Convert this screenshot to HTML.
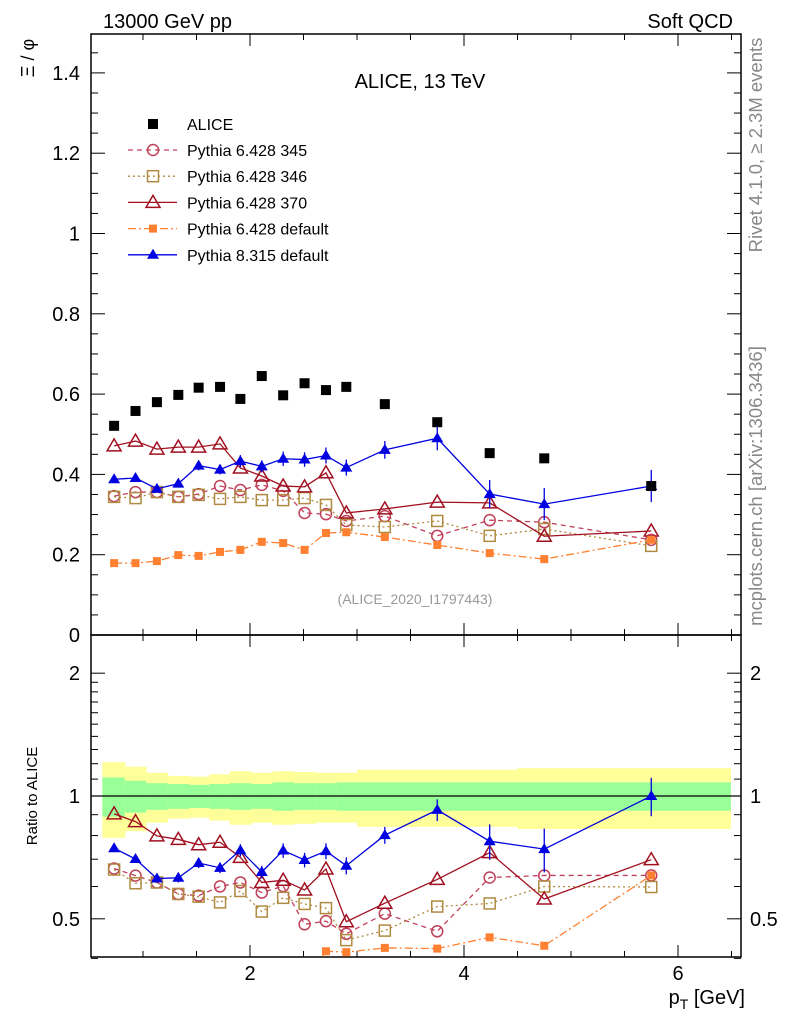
<!DOCTYPE html>
<html><head><meta charset="utf-8"><style>
body{margin:0;background:#fff;font-family:"Liberation Sans",sans-serif}
svg{display:block}
</style></head><body>
<svg id="c" width="786" height="1024" xmlns="http://www.w3.org/2000/svg" font-family="Liberation Sans, sans-serif">
<text x="103" y="28" font-size="20">13000 GeV pp</text>
<text x="733" y="28" font-size="20" text-anchor="end">Soft QCD</text>
<text x="420" y="88" font-size="20" text-anchor="middle">ALICE, 13 TeV</text>
<text transform="translate(34,58) rotate(-90)" font-size="18" text-anchor="middle">Ξ / φ</text>
<text transform="translate(37,796) rotate(-90)" font-size="15" text-anchor="middle">Ratio to ALICE</text>
<text transform="translate(762,145) rotate(-90)" font-size="18.5" fill="#888" text-anchor="middle">Rivet 4.1.0, ≥ 2.3M events</text>
<text transform="translate(762,486) rotate(-90)" font-size="18.5" fill="#888" text-anchor="middle">mcplots.cern.ch [arXiv:1306.3436]</text>
<text x="415" y="604" font-size="14" fill="#999" text-anchor="middle">(ALICE_2020_I1797443)</text>
<text x="745" y="1004" font-size="20" text-anchor="end">p<tspan font-size="14" dy="5">T</tspan><tspan dy="-5"> [GeV]</tspan></text>
<g id="g"></g>
</svg>
<script>
const pt=[0.73,0.93,1.13,1.33,1.52,1.72,1.91,2.11,2.31,2.51,2.71,2.9,3.26,3.75,4.24,4.75,5.75];
const edges=[0.62,0.83,1.03,1.23,1.43,1.62,1.81,2.01,2.21,2.41,2.61,2.81,3.0,3.5,4.0,4.5,5.0,6.49];
const alice=[0.521,0.558,0.580,0.598,0.616,0.618,0.588,0.645,0.597,0.627,0.610,0.618,0.575,0.530,0.453,0.440,0.371];
const py345=[0.346,0.356,0.356,0.344,0.351,0.371,0.361,0.374,0.359,0.304,0.301,0.284,0.296,0.247,0.286,0.281,0.237];
const py346=[0.344,0.341,0.356,0.344,0.349,0.339,0.344,0.336,0.336,0.341,0.324,0.274,0.269,0.284,0.247,0.264,0.222];
const py370=[0.471,0.483,0.463,0.468,0.468,0.476,0.416,0.396,0.371,0.369,0.404,0.304,0.314,0.331,0.329,0.246,0.259];
const py6def=[0.179,0.179,0.184,0.199,0.197,0.207,0.212,0.232,0.229,0.212,0.254,0.256,0.244,0.224,0.204,0.189,0.237];
const py8=[0.388,0.391,0.364,0.377,0.422,0.412,0.433,0.420,0.439,0.437,0.447,0.417,0.461,0.490,0.351,0.326,0.371];
const py8err=[0.008,0.008,0.008,0.01,0.012,0.012,0.015,0.015,0.018,0.018,0.02,0.02,0.022,0.03,0.035,0.04,0.04];
const relTot=[0.21,0.18,0.14,0.12,0.115,0.13,0.15,0.14,0.15,0.145,0.14,0.14,0.16,0.16,0.16,0.17,0.17];
const relStat=[0.11,0.09,0.075,0.07,0.065,0.07,0.075,0.07,0.08,0.075,0.075,0.08,0.08,0.08,0.08,0.08,0.08];
const mainTicks=[0,0.2,0.4,0.6,0.8,1,1.2,1.4];
const ratioTicks=[0.5,1,2];
const xTicks=[2,4,6];

const NS="http://www.w3.org/2000/svg",G=document.getElementById('g');
const X=p=>36+107*p, Y=v=>635-401.5*v, R=r=>796-408*Math.log10(r);
function el(t,a,par){const e=document.createElementNS(NS,t);for(const k in a)e.setAttribute(k,a[k]);(par||G).appendChild(e);return e;}
for(let i=0;i<pt.length;i++){
 const x0=X(edges[i]),x1=Math.min(X(edges[i+1]),741);
 let b=el('rect',{x:x0,y:R(1+relTot[i]),width:x1-x0+0.5,height:R(1-relTot[i])-R(1+relTot[i]),fill:'#ffff99'});
 
 
 b=el('rect',{x:x0,y:R(1+relStat[i]),width:x1-x0+0.5,height:R(1-relStat[i])-R(1+relStat[i]),fill:'#99ff99'});
 
 
}
el('line',{x1:91,x2:741,y1:R(1),y2:R(1),stroke:'#000','stroke-width':1.2});
let f=el('rect',{x:91,y:34,width:650,height:601,fill:'none',stroke:'#000','stroke-width':1.5});


f=el('rect',{x:91,y:635,width:650,height:322,fill:'none',stroke:'#000','stroke-width':1.5});


for(let p=0.5;p<=6.5;p+=0.5){const x=X(p);if(x<92||x>740)continue;const L=Number.isInteger(p/2)?12:6;
 for(const [a,b] of [[34,34+L],[635-L,635],[635,635+L],[957-L,957]])el('line',{x1:x,x2:x,y1:a,y2:b,stroke:'#000'});}
xTicks.forEach(p=>{const t=el('text',{x:X(p),y:980,'font-size':20,'text-anchor':'middle'});t.textContent=p;
 
 });
for(let v=0;v<=1.5;v+=0.05){const y=Y(v);if(y<35)continue;const maj=Math.abs(v*5-Math.round(v*5))<1e-6;const L=maj?14:7;
 el('line',{x1:91,x2:91+L,y1:y,y2:y,stroke:'#000'});el('line',{x1:741-L,x2:741,y1:y,y2:y,stroke:'#000'});}
mainTicks.forEach(v=>{const t=el('text',{x:80,y:Y(v)+7,'font-size':20,'text-anchor':'end'});t.textContent=v;
 
 });
[0.4,0.5,0.6,0.7,0.8,0.9,1,1.1,1.2,1.3,1.4,1.5,1.6,1.7,1.8,1.9,2].forEach(r=>{const y=R(r);const maj=[0.5,1,2].includes(r);const L=maj?14:7;
 el('line',{x1:91,x2:91+L,y1:y,y2:y,stroke:'#000'});el('line',{x1:741-L,x2:741,y1:y,y2:y,stroke:'#000'});});
ratioTicks.forEach(r=>{let t=el('text',{x:80,y:R(r)+7,'font-size':20,'text-anchor':'end'});t.textContent=r;
 
 
 t=el('text',{x:750,y:R(r)+7,'font-size':20});t.textContent=r;
 
 });
function marker(kind,x,y,col,par){
 if(kind==='sqf')return el('rect',{x:x-5,y:y-5,width:10,height:10,fill:col},par);
 if(kind==='sqs')return el('rect',{x:x-4,y:y-4,width:8,height:8,fill:col},par);
 if(kind==='sqo')return el('rect',{x:x-5.5,y:y-5.5,width:11,height:11,fill:'none',stroke:col,'stroke-width':1.5},par);
 if(kind==='circ')return el('circle',{cx:x,cy:y,r:5.5,fill:'none',stroke:col,'stroke-width':1.5},par);
 if(kind==='trio')return el('path',{d:`M${x},${y-7}L${x+7},${y+5}L${x-7},${y+5}Z`,fill:'none',stroke:col,'stroke-width':1.5},par);
 if(kind==='trif')return el('path',{d:`M${x},${y-6}L${x+6},${y+4}L${x-6},${y+4}Z`,fill:col},par);
}
const series=[
 {n:'pythia-6428-345',v:py345,c:'#c0405a',m:'circ',d:'5,4',lab:'Pythia 6.428 345'},
 {n:'pythia-6428-346',v:py346,c:'#b08a40',m:'sqo',d:'2,3',lab:'Pythia 6.428 346'},
 {n:'pythia-6428-370',v:py370,c:'#a01020',m:'trio',d:'',lab:'Pythia 6.428 370'},
 {n:'pythia-6428-default',v:py6def,c:'#ff8030',m:'sqs',d:'8,3,2,3',lab:'Pythia 6.428 default'},
 {n:'pythia-8315-default',v:py8,c:'#0000e0',m:'trif',d:'',lab:'Pythia 8.315 default',e:py8err}];
const clipR=el('clipPath',{id:'cr'});el('rect',{x:91,y:635,width:650,height:322},clipR);
series.forEach(s=>{
 const g=el('g',{});
 el('polyline',{points:s.v.map((v,i)=>X(pt[i])+','+Y(v)).join(' '),fill:'none',stroke:s.c,'stroke-width':1.3,'stroke-dasharray':s.d},g);
 const gr=el('g',{'clip-path':'url(#cr)'});
 el('polyline',{points:s.v.map((v,i)=>X(pt[i])+','+R(v/alice[i])).join(' '),fill:'none',stroke:s.c,'stroke-width':1.3,'stroke-dasharray':s.d},gr);
 s.v.forEach((v,i)=>{const x=X(pt[i]);
  if(s.e){el('line',{x1:x,x2:x,y1:Y(v+s.e[i]),y2:Y(v-s.e[i]),stroke:s.c,'stroke-width':1.3},g);
   el('line',{x1:x,x2:x,y1:R((v+s.e[i])/alice[i]),y2:R((v-s.e[i])/alice[i]),stroke:s.c,'stroke-width':1.3},gr);}
  let m=marker(s.m,x,Y(v),s.c,g);
  m=marker(s.m,x,R(v/alice[i]),s.c,gr);
 });
});
const ga=el('g',{});
alice.forEach((v,i)=>{const m=marker('sqf',X(pt[i]),Y(v),'#000',ga);
 
 });
const lg=el('g',{});
marker('sqf',153,124,'#000',lg);
let t=el('text',{x:187,y:130,'font-size':16},lg);t.textContent='ALICE';


series.forEach((s,k)=>{const y=150+k*26.2;
 el('line',{x1:128,x2:177,y1:y,y2:y,stroke:s.c,'stroke-width':1.3,'stroke-dasharray':s.d},lg);
 marker(s.m,153,y,s.c,lg);
 const t=el('text',{x:187,y:y+6,'font-size':16},lg);t.textContent=s.lab;
 
 });
</script>
</body></html>
